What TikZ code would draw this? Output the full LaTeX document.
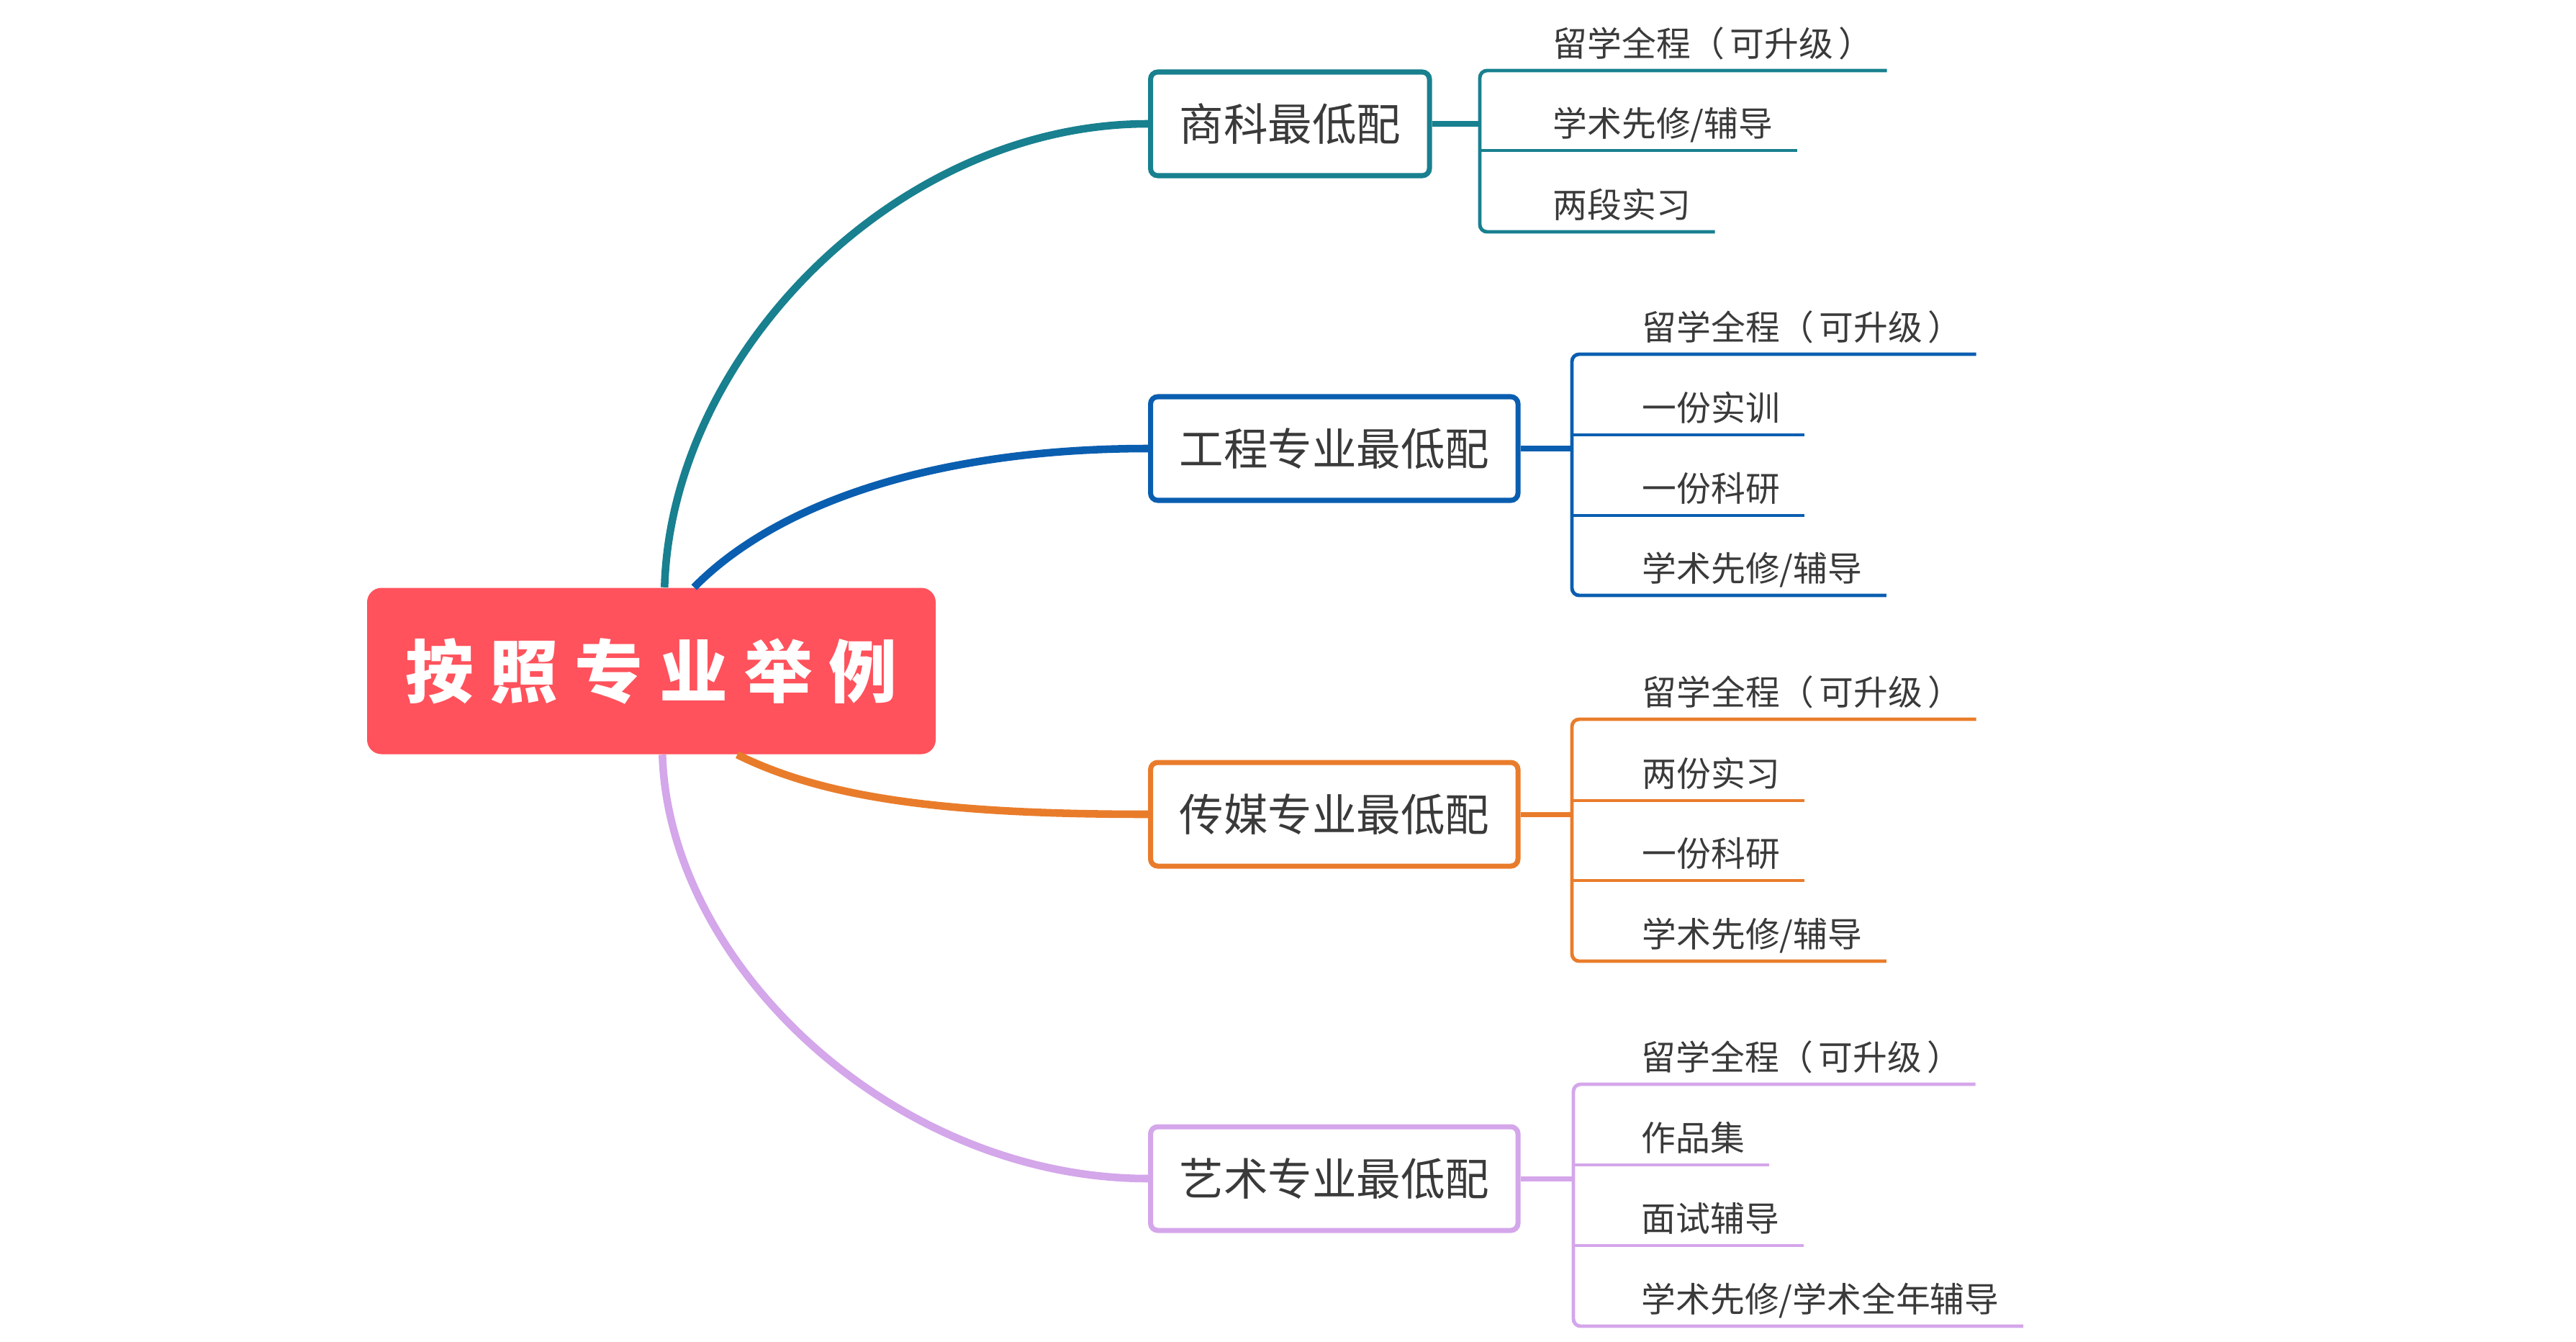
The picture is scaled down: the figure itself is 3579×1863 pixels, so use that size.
\documentclass[tikz,border=0pt]{standalone}
\usepackage{fontspec}
\newfontfamily\cjk{Noto Sans CJK SC}
\newfontfamily\cjkroot{Noto Sans CJK SC}[LetterSpace=24]
\usetikzlibrary{calc}

\definecolor{rootred}{RGB}{255,82,92}
\definecolor{bizteal}{RGB}{24,128,143}
\definecolor{engblue}{RGB}{10,94,176}
\definecolor{medorange}{RGB}{233,124,43}
\definecolor{artlilac}{RGB}{212,166,234}
\definecolor{txtgray}{RGB}{58,58,58}

\newcommand{\fullcourse}{留学全程（\kern0.15em 可升级\kern0.15em）\kern-0.3em}

\tikzset{
  rootbox/.style={fill=rootred, rounded corners=2mm, minimum width=79mm,
    minimum height=23.1mm, text=white, font=\cjkroot\bfseries\fontsize{27}{27}\selectfont},
  majorbox/.style={draw=#1, fill=white, line width=2pt, rounded corners=1mm,
    minimum height=14.4mm, inner xsep=4mm, anchor=west, text=txtgray,
    font=\cjk\fontsize{17.5}{17.5}\selectfont},
  leaf/.style={anchor=base west, inner sep=0pt, text=txtgray,
    font=\cjk\fontsize{13.6}{13.6}\selectfont},
  limb/.style={draw=#1, line width=3pt},
  stem/.style={draw=#1, line width=2pt},
  twig/.style={draw=#1, line width=1.4pt, rounded corners=1mm},
}

\begin{document}
\begin{tikzpicture}[x=0.1mm, y=-0.1mm]
  \useasboundingbox (0,0) rectangle (3579,1863);

  \node[rootbox] (root) at (905,932) {按照专业举例};

  \node[majorbox=bizteal] (biz) at (1595,172) {商科最低配};
  \node[majorbox=engblue] (eng) at (1595,623) {工程专业最低配};
  \node[majorbox=medorange] (med) at (1595,1131) {传媒专业最低配};
  \node[majorbox=artlilac] (art) at (1595,1637) {艺术专业最低配};

  % main branches
  \draw[limb=bizteal] ([shift={(414,0)}]root.north west) .. controls +(9,-323) and +(-350,0) .. (biz.west);
  \draw[limb=engblue] ([shift={(455,0)}]root.north west) .. controls +(115,-117) and +(-295,0) .. (eng.west);
  \draw[limb=medorange] ([shift={(515,0)}]root.south west) .. controls +(125,62) and +(-275,0) .. (med.west);
  \draw[limb=artlilac] ([shift={(411,0)}]root.south west) .. controls +(9,295) and +(-350,0) .. (art.west);

  % business
  \coordinate (bizj) at (2056,172);
  \node[leaf] (biz1) at (2157,78) {\fullcourse};
  \node[leaf] (biz2) at (2157,189) {学术先修/辅导};
  \node[leaf] (biz3) at (2157,302) {两段实习};
  \coordinate (biz1e) at ([shift={(33,20)}]biz1.base east);
  \coordinate (biz2e) at ([shift={(33,20)}]biz2.base east);
  \coordinate (biz3e) at ([shift={(33,20)}]biz3.base east);
  \draw[stem=bizteal] (biz.east) -- (bizj);
  \draw[twig=bizteal] (biz1e) -- (biz1e -| bizj) -- (biz3e -| bizj) -- (biz3e);
  \draw[twig=bizteal] (biz2e -| bizj) -- (biz2e);

  % engineering
  \coordinate (engj) at (2184,623);
  \node[leaf] (eng1) at (2281,472) {\fullcourse};
  \node[leaf] (eng2) at (2281,584) {一份实训};
  \node[leaf] (eng3) at (2281,696) {一份科研};
  \node[leaf] (eng4) at (2281,807) {学术先修/辅导};
  \coordinate (eng1e) at ([shift={(33,20)}]eng1.base east);
  \coordinate (eng2e) at ([shift={(33,20)}]eng2.base east);
  \coordinate (eng3e) at ([shift={(33,20)}]eng3.base east);
  \coordinate (eng4e) at ([shift={(33,20)}]eng4.base east);
  \draw[stem=engblue] (eng.east) -- (engj);
  \draw[twig=engblue] (eng1e) -- (eng1e -| engj) -- (eng4e -| engj) -- (eng4e);
  \draw[twig=engblue] (eng2e -| engj) -- (eng2e);
  \draw[twig=engblue] (eng3e -| engj) -- (eng3e);

  % media
  \coordinate (medj) at (2184,1131);
  \node[leaf] (med1) at (2281,979) {\fullcourse};
  \node[leaf] (med2) at (2281,1092) {两份实习};
  \node[leaf] (med3) at (2281,1203) {一份科研};
  \node[leaf] (med4) at (2281,1315) {学术先修/辅导};
  \coordinate (med1e) at ([shift={(33,20)}]med1.base east);
  \coordinate (med2e) at ([shift={(33,20)}]med2.base east);
  \coordinate (med3e) at ([shift={(33,20)}]med3.base east);
  \coordinate (med4e) at ([shift={(33,20)}]med4.base east);
  \draw[stem=medorange] (med.east) -- (medj);
  \draw[twig=medorange] (med1e) -- (med1e -| medj) -- (med4e -| medj) -- (med4e);
  \draw[twig=medorange] (med2e -| medj) -- (med2e);
  \draw[twig=medorange] (med3e -| medj) -- (med3e);

  % art
  \coordinate (artj) at (2186,1637);
  \node[leaf] (art1) at (2280,1486) {\fullcourse};
  \node[leaf] (art2) at (2280,1598) {作品集};
  \node[leaf] (art3) at (2280,1710) {面试辅导};
  \node[leaf] (art4) at (2280,1822) {学术先修/学术全年辅导};
  \coordinate (art1e) at ([shift={(33,20)}]art1.base east);
  \coordinate (art2e) at ([shift={(33,20)}]art2.base east);
  \coordinate (art3e) at ([shift={(33,20)}]art3.base east);
  \coordinate (art4e) at ([shift={(33,20)}]art4.base east);
  \draw[stem=artlilac] (art.east) -- (artj);
  \draw[twig=artlilac] (art1e) -- (art1e -| artj) -- (art4e -| artj) -- (art4e);
  \draw[twig=artlilac] (art2e -| artj) -- (art2e);
  \draw[twig=artlilac] (art3e -| artj) -- (art3e);
\end{tikzpicture}
\end{document}
